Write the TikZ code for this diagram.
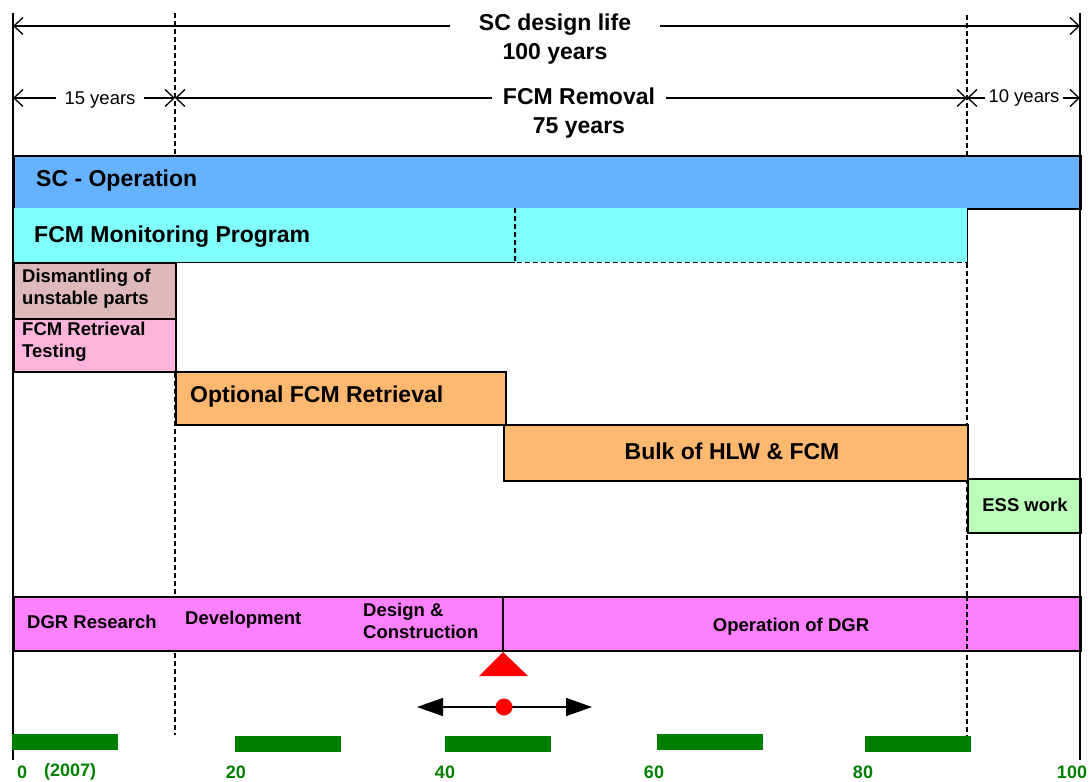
\documentclass[tikz,border=0pt]{standalone}
\usepackage{fontspec}
\setmainfont{Liberation Sans}
\usetikzlibrary{arrows.meta}
\definecolor{scblue}{RGB}{102,178,255}
\definecolor{fcmcyan}{RGB}{128,255,255}
\definecolor{dismant}{RGB}{221,185,185}
\definecolor{testpink}{RGB}{255,180,222}
\definecolor{retorange}{RGB}{255,184,112}
\definecolor{esslight}{RGB}{187,255,187}
\definecolor{dgrmag}{RGB}{255,128,255}
\definecolor{darkgreen}{RGB}{0,128,0}
\begin{document}
\begin{tikzpicture}[x=1pt,y=-1pt,
  barbox/.style={draw=black, line width=1.5pt, anchor=north west, inner sep=0pt},
  fillbox/.style={draw=none, anchor=north west, inner sep=0pt},
  bigtxt/.style={font=\fontsize{23}{29}\selectfont\bfseries, align=center, inner sep=0pt},
  smalltxt/.style={font=\fontsize{18.5}{22}\selectfont\bfseries, align=left, inner sep=0pt},
  plaintxt/.style={font=\fontsize{18.5}{22}\selectfont, inner sep=0pt},
  axistxt/.style={font=\fontsize{18}{22}\selectfont\bfseries, text=darkgreen, inner sep=0pt},
  dimline/.style={line width=1.3pt, -{Straight Barb[length=9pt,width=17pt]}},
  border/.style={line width=1.5pt},
  dashline/.style={line width=1.3pt, dash pattern=on 5pt off 3pt},
  gbar/.style={fill=darkgreen, draw=none, anchor=north west, inner sep=0pt, minimum width=106pt, minimum height=16pt},
]
\useasboundingbox (0,0) rectangle (1090,782);

% frame coordinates
\coordinate (Ltop) at (13,13);
\coordinate (Lbot) at (13,760);
\coordinate (Rtop) at (1080,13);
\coordinate (Rbot) at (1080,760);
\coordinate (D1top) at (175,13);
\coordinate (D1bot) at (175,735);
\coordinate (D2top) at (967,15);
\coordinate (D2bot) at (967,737);

% dashed guide lines (behind bars)
\draw[dashline] (D1top) -- (D1bot);
\draw[dashline] (D2top) -- (D2bot);

% top dimension lines
\node[bigtxt, inner xsep=29pt] (life) at (555,39) {SC design life\\100 years};
\coordinate (l1a) at (13,26);
\coordinate (l1b) at (1080,26);
\draw[dimline] (life.west |- l1a) -- (l1a);
\draw[dimline] (life.east |- l1b) -- (l1b);

\node[bigtxt, inner xsep=11pt] (fcmrem) at (579,113) {FCM Removal\\75 years};
\coordinate (l2a) at (175,98);
\coordinate (l2b) at (967,98);
\draw[dimline] (fcmrem.west |- l2a) -- (l2a);
\draw[dimline] (fcmrem.east |- l2b) -- (l2b);

\node[plaintxt, inner xsep=8pt] (y15) at (100,100) {15 years};
\coordinate (l3a) at (13,98);
\coordinate (l3b) at (175,98);
\draw[dimline] (y15.west |- l3a) -- (l3a);
\draw[dimline] (y15.east |- l3b) -- (l3b);

\node[plaintxt, inner xsep=3pt] (y10) at (1024,98) {10 years};
\coordinate (l4a) at (967,98);
\coordinate (l4b) at (1080,98);
\draw[dimline] (y10.west |- l4a) -- (l4a);
\draw[dimline] (y10.east |- l4b) -- (l4b);

% SC operation
\node[barbox, fill=scblue, minimum width=1067pt, minimum height=53pt] (sc) at (13,155) {};
\node[bigtxt, anchor=west] (sct) at (36,181) {SC - Operation};

% FCM monitoring
\node[fillbox, fill=fcmcyan, minimum width=954pt, minimum height=54pt] (mon) at (13,208) {};
\coordinate (monmid) at (515,208);
\draw[border] (mon.north west) -- (mon.south west) -- (monmid |- mon.south);
\draw[dashline] (monmid) -- (monmid |- mon.south) -- (mon.south east) -- (mon.north east);
\node[bigtxt, anchor=west] (mont) at (34,237) {FCM Monitoring Program};

% Dismantling
\node[barbox, fill=dismant, minimum width=162pt, minimum height=56pt] (dis) at (13,262) {};
\node[smalltxt, anchor=west] (dist) at (22,289) {Dismantling of\\unstable parts};

% FCM retrieval testing
\node[barbox, fill=testpink, minimum width=162pt, minimum height=53pt] (tst) at (13,318) {};
\node[smalltxt, anchor=west] (tstt) at (22,342) {FCM Retrieval\\Testing};

% Optional FCM retrieval
\node[barbox, fill=retorange, minimum width=330pt, minimum height=53pt] (opt) at (175,371) {};
\node[bigtxt, anchor=west] (optt) at (190,397) {Optional FCM Retrieval};

% Bulk
\node[barbox, fill=retorange, minimum width=464pt, minimum height=56pt] (bulk) at (503,424) {};
\node[bigtxt] (bulkt) at (732,451) {Bulk of HLW \& FCM};

% ESS
\node[barbox, fill=esslight, minimum width=113pt, minimum height=54pt] (ess) at (967,478) {};
\node[smalltxt] (esst) at (1025,505) {ESS work};

% DGR bar
\node[barbox, fill=dgrmag, minimum width=1067pt, minimum height=54pt] (dgr) at (13,596) {};
\coordinate (dgrdiv) at (503,596);
\draw[border] (dgrdiv) -- (dgrdiv |- dgr.south);
\draw[dashline] (967,596) -- (967,650);
\node[smalltxt] (dgr1) at (92,622) {DGR Research};
\node[smalltxt, anchor=west] (dgr2) at (185,620) {Development};
\node[smalltxt, anchor=west] (dgr3) at (363,621) {Design \&\\Construction};
\node[smalltxt] (dgr4) at (791,627) {Operation of DGR};

% outer vertical lines
\draw[border] (Ltop) -- (Lbot);
\draw[line width=2pt] (Rtop) -- (Rbot);

% red marker
\coordinate (tri) at (503,652);
\fill[red] (tri) -- (528,676) -- (479,676) -- cycle;
\coordinate (arL) at (417,707);
\coordinate (arR) at (592,707);
\draw[line width=1.5pt, {Triangle[length=26pt,width=18pt]}-{Triangle[length=26pt,width=18pt]}] (arL) -- (arR);
\node[circle, fill=red, inner sep=0pt, minimum size=17pt] (dot) at (504,707) {};

% green bars
\node[gbar] (g0) at (12,734) {};
\node[gbar] (g20) at (235,736) {};
\node[gbar] (g40) at (445,736) {};
\node[gbar] (g60) at (657,734) {};
\node[gbar] (g80) at (865,736) {};

% axis labels
\node[axistxt, anchor=west] (a0) at (17,772) {0};
\node[axistxt, anchor=west] (a2007) at (44,772) {(2007)};
\node[axistxt] (a20) at (236,772) {20};
\node[axistxt] (a40) at (445,772) {40};
\node[axistxt] (a60) at (654,772) {60};
\node[axistxt] (a80) at (863,772) {80};
\node[axistxt] (a100) at (1072,772) {100};
\end{tikzpicture}
\end{document}
